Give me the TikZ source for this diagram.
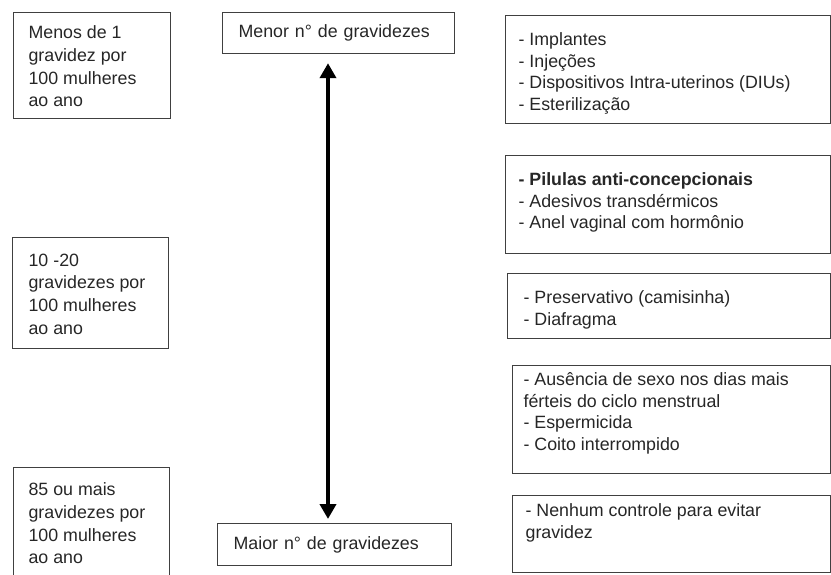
\documentclass[tikz,border=0pt]{standalone}
\usepackage{fontspec}
\setmainfont{Liberation Sans}
\usetikzlibrary{
  arrows.meta,
  positioning,
  calc
}

\newcommand{\bloco}[3]{\parbox[c][#2][t]{#1}{\raggedright #3}}

\begin{document}
\begin{tikzpicture}[
    x=1pt, y=-1pt,
    caixa/.style={
    draw=black!75,
    line width=1.2pt,
    anchor=north west,
    inner xsep=15pt,
    inner ysep=13pt,
    text=black!85,
    font=\fontsize{17.8}{22.8}\selectfont
    },
    lista/.style={
    caixa,
    font=\fontsize{17.8}{21.7}\selectfont
    },
    rotulo/.style={
    caixa,
    inner xsep=16pt,
    inner ysep=0pt,
    align=left
    },
    seta/.style={{Triangle[length=15pt,width=16pt]}-{Triangle[length=15pt,width=16pt]},line width=4.5pt}
    ]
    
    \useasboundingbox (0,0) rectangle (831,575);
    
    % taxas de gravidez
    \node[caixa] (taxa1) at (13,12)
    {\bloco{127pt}{80pt}{Menos de 1\\gravidez por\\100 mulheres\\ao ano}};
    
    \node[caixa,inner xsep=16pt,inner ysep=16pt] (taxa2) at (12,237)
    {\bloco{124pt}{79pt}{10 -20\\gravidezes por\\100 mulheres\\ao ano}};
    
    \node[caixa,inner ysep=15pt] (taxa3) at (13,467)
    {\bloco{126pt}{81pt}{85 ou mais\\gravidezes por\\100 mulheres\\ao ano}};
    
    % eixo central
    \node[rotulo,minimum height=41pt,text width=200pt] (menor) at (222,12)
    {Menor n° de gravidezes};
    
    \node[rotulo,minimum height=42pt,text width=202pt] (maior) at (217,523)
    {Maior n° de gravidezes};
    
    \coordinate (eixo) at (328,0);
    \draw[seta,shorten <=9pt,shorten >=4pt]
    (menor.south -| eixo) -- (maior.north -| eixo);
    
    % metodos
    \node[lista,inner xsep=13pt,inner ysep=17pt] (met1) at (505,15)
    {\bloco{299pt}{74pt}{- Implantes\\- Injeções\\- Dispositivos Intra-uterinos (DIUs)\\- Esterilização}};
    
    \node[lista,inner xsep=13pt,inner ysep=17pt] (met2) at (505,155)
    {\bloco{299pt}{64pt}{\textbf{- Pilulas anti-concepcionais}\\- Adesivos transdérmicos\\- Anel vaginal com hormônio}};
    
    \node[lista,inner xsep=16pt,inner ysep=17pt] (met3) at (507,273)
    {\bloco{291pt}{31pt}{- Preservativo (camisinha)\\- Diafragma}};
    
    \node[lista,inner xsep=11pt,inner ysep=7pt] (met4) at (512,365)
    {\bloco{296pt}{94pt}{- Ausência de sexo nos dias mais\\férteis do ciclo menstrual\\- Espermicida\\- Coito interrompido}};
    
    \node[lista,inner xsep=13pt,inner ysep=8pt] (met5) at (512,495)
    {\bloco{292pt}{61pt}{- Nenhum controle para evitar\\gravidez}};
    
\end{tikzpicture}
\end{document}
